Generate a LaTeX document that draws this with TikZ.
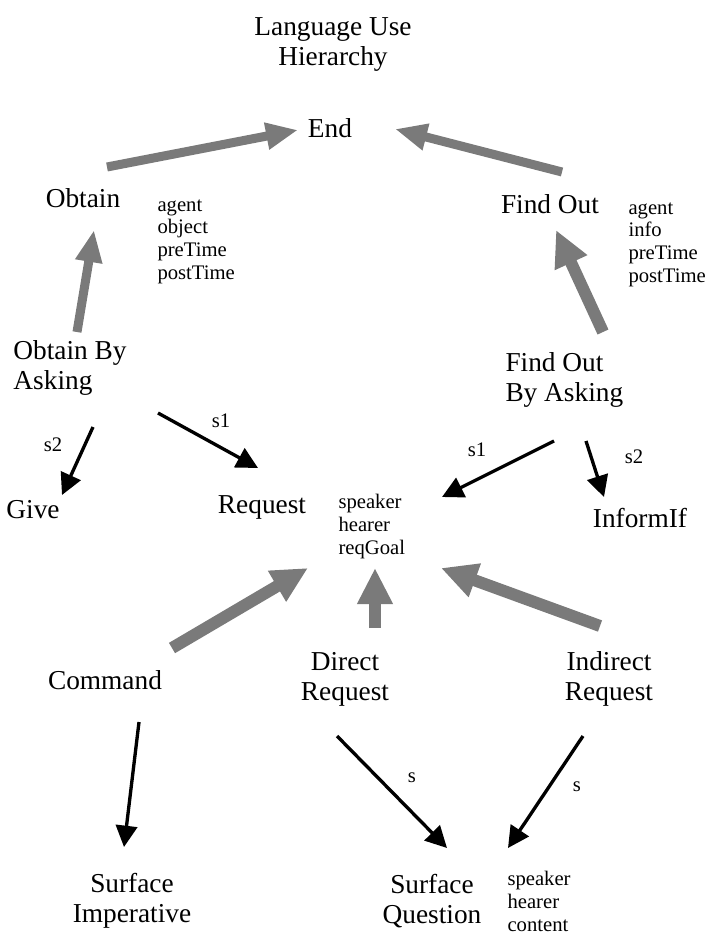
\documentclass[tikz,border=0pt]{standalone}
\usepackage{fontspec}
\setmainfont{Liberation Serif}
\usetikzlibrary{arrows.meta}

\definecolor{isagray}{RGB}{122,122,122}
\tikzset{every picture/.style={line width=0.75pt}}
\tikzset{
  concept/.style={font=\fontsize{20.5}{22.5}\selectfont, inner sep=0pt, align=center},
  slots/.style={font=\fontsize{15.5}{17}\selectfont, inner sep=0pt, align=left, anchor=north west},
  role/.style={font=\fontsize{15.5}{17}\selectfont, inner sep=0pt},
  isa/.style={draw=isagray, line width=6.75pt, -{Triangle[length=24pt,width=19pt]}},
  isa thick/.style={draw=isagray, line width=9pt, -{Triangle[length=27pt,width=25pt]}},
  part/.style={draw=black, line width=2.5pt, -{Triangle[length=16pt,width=16pt]}}
}

\begin{document}
\begin{tikzpicture}[x=0.75pt,y=0.75pt,yscale=-1,xscale=1]
        \useasboundingbox (0,0) rectangle (712,935);

        % Text Node
        \node[concept] (title) at (333,45) {Language Use\\Hierarchy};
        % Text Node
        \node[concept] (end) at (330,128) {End};
        % Text Node
        \node[concept] (obtain) at (83,198) {Obtain};
        \node[slots] (obtainslots) at (157,199) {agent\\object\\preTime\\postTime};
        % Text Node
        \node[concept] (findout) at (550,204) {Find Out};
        \node[slots] (findoutslots) at (628,202) {agent\\info\\preTime\\postTime};
        % Text Node
        \node[concept, anchor=west, align=left] (oba) at (13,368) {Obtain By\\Asking};
        % Text Node
        \node[concept, anchor=west, align=left] (foba) at (505,380) {Find Out\\By Asking};
        % Text Node
        \node[concept] (give) at (33,510) {Give};
        \node[concept] (request) at (262,507) {Request};
        \node[slots] (requestslots) at (338,494) {speaker\\hearer\\reqGoal};
        \node[concept] (informif) at (640,518) {InformIf};
        % Text Node
        \node[concept] (command) at (105,680) {Command};
        \node[concept] (direct) at (345,679) {Direct\\Request};
        \node[concept] (indirect) at (609,679) {Indirect\\Request};
        % Text Node
        \node[concept] (simp) at (132,901) {Surface\\Imperative};
        \node[concept] (squest) at (432,901) {Surface\\Question};
        \node[slots] (squestslots) at (507,871) {speaker\\hearer\\content};

        % Role labels
        \node[role] (rgive) at (53,445) {s2};
        \node[role] (rreq) at (221,421) {s1};
        \node[role] (rreqb) at (477,450) {s1};
        \node[role] (rinf) at (634,457) {s2};
        \node[role] (rsq) at (412,778) {s};
        \node[role] (rsqb) at (577,787) {s};

        %Gray arrows (specialisation)
        \draw[isa] ([shift={(24,-31)}]obtain.center) -- ([shift={(-32,2)}]end.center);
        \draw[isa] ([shift={(12,-32)}]findout.center) -- ([shift={(65,1)}]end.center);
        \draw[isa] ([shift={(64,-36)}]oba.west) -- ([shift={(11,32)}]obtain.center);
        \draw[isa thick] ([shift={(98,-48)}]foba.west) -- ([shift={(6,26)}]findout.center);
        \draw[isa thick] ([shift={(67,-32)}]command.center) -- ([shift={(46,61)}]request.center);
        \draw[isa thick] ([shift={(30,-51)}]direct.center) -- ([shift={(113,61)}]request.center);
        \draw[isa thick] ([shift={(-9,-53)}]indirect.center) -- ([shift={(179,61)}]request.center);

        %Black arrows (steps)
        \draw[part] ([shift={(80,59)}]oba.west) -- ([shift={(29,-15)}]give.center);
        \draw[part] ([shift={(145,45)}]oba.west) -- ([shift={(-4,-39)}]request.center);
        \draw[part] ([shift={(49,61)}]foba.west) -- ([shift={(180,-10)}]request.center);
        \draw[part] ([shift={(81,61)}]foba.west) -- ([shift={(-36,-21)}]informif.center);
        \draw[part] ([shift={(34,42)}]command.center) -- ([shift={(-8,-54)}]simp.center);
        \draw[part] ([shift={(-8,57)}]direct.center) -- ([shift={(15,-53)}]squest.center);
        \draw[part] ([shift={(-26,57)}]indirect.center) -- ([shift={(76,-53)}]squest.center);

\end{tikzpicture}
\end{document}
